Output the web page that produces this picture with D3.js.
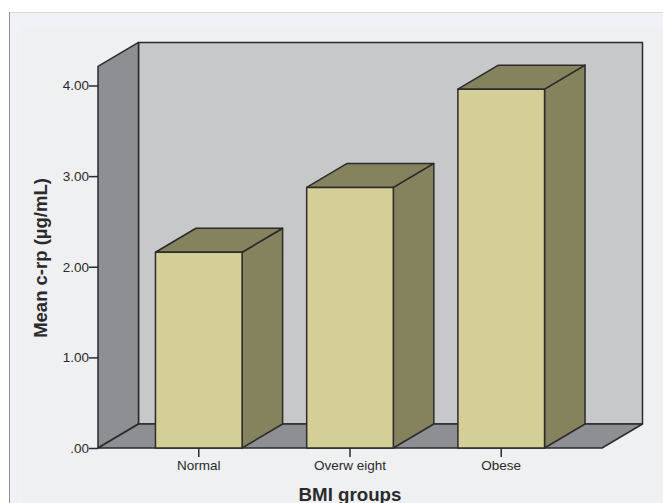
<!DOCTYPE html>
<html>
<head>
<meta charset="utf-8">
<script src="https://cdnjs.cloudflare.com/ajax/libs/d3/7.8.5/d3.min.js"></script>
<style>
  html, body { margin: 0; padding: 0; background: #fff; overflow: hidden; }
  text { font-family: "Liberation Sans", Arial, sans-serif; fill: #2b2a2c; }
</style>
</head>
<body>
<svg id="chart" width="663" height="503"></svg>
<script>
var categories = ['Normal', 'Overw eight', 'Obese'];
var means = [2.16, 2.875, 3.96];
var yTicks = [0, 1, 2, 3, 4];
var yTop = 4.21;

var WIDTH = 663, HEIGHT = 503;
var LINE = '#2b2a2c';
var depthX = 40.5, depthY = -24;

var svg = d3.select('#chart');

// page backing
svg.append('rect').attr('x', 9.5).attr('y', 12.5).attr('width', WIDTH).attr('height', HEIGHT)
  .attr('fill', '#f0f2f7').attr('stroke', '#d9dadc');
svg.append('line').attr('x1', 9.5).attr('x2', 9.5).attr('y1', 12).attr('y2', HEIGHT).attr('stroke', '#8f9092');
svg.append('rect').attr('x', 21).attr('y', 27).attr('width', WIDTH).attr('height', HEIGHT).attr('fill', '#eff0f2');

var x = d3.scaleBand().domain(categories).range([98, 602]).paddingInner(0.427).paddingOuter(0.38);
var y = d3.scaleLinear().domain([0, 4]).range([448, 85.5]);

var x0 = x.range()[0], x1 = x.range()[1];
var path = function(pts) { return d3.line()(pts) + 'Z'; };
var shape = function(pts, fill) {
  svg.append('path').attr('d', path(pts)).attr('fill', fill)
    .attr('stroke', LINE).attr('stroke-width', 1.5).attr('stroke-linejoin', 'round');
};

// back wall, side wall, floor
shape([[x0 + depthX, y(yTop) + depthY], [x1 + depthX, y(yTop) + depthY], [x1 + depthX, y(0) + depthY], [x0 + depthX, y(0) + depthY]], '#c7c8ca');
shape([[x0, y(yTop)], [x0 + depthX, y(yTop) + depthY], [x0 + depthX, y(0) + depthY], [x0, y(0)]], '#8e8f92');
shape([[x0, y(0)], [x0 + depthX, y(0) + depthY], [x1 + depthX, y(0) + depthY], [x1, y(0)]], '#8e8f92');

// bars
categories.forEach(function(cat, i) {
  var left = x(cat), right = left + x.bandwidth(), top = y(means[i]), bottom = y(0);
  shape([[right, top], [right + depthX, top + depthY], [right + depthX, bottom + depthY], [right, bottom]], '#85825e');
  shape([[left, top], [left + depthX, top + depthY], [right + depthX, top + depthY], [right, top]], '#85825e');
  shape([[left, top], [right, top], [right, bottom], [left, bottom]], '#d3cf97');
});

// axes
var yAxis = d3.axisLeft(y).tickValues(yTicks).tickSize(9).tickPadding(0)
  .tickFormat(function(d) { return d === 0 ? '.00' : d3.format('.2f')(d); });
var yG = svg.append('g').attr('transform', 'translate(' + x0 + ',0)').call(yAxis);
yG.select('.domain').remove();
yG.selectAll('line').attr('stroke', LINE).attr('stroke-width', 1.5);
yG.selectAll('text').attr('font-size', 13.5).attr('font-family', '"Liberation Sans", Arial, sans-serif').attr('fill', '#2b2a2c');

var xAxis = d3.axisBottom(x).tickSize(9).tickPadding(3);
var xG = svg.append('g').attr('transform', 'translate(0,' + y(0) + ')').call(xAxis);
xG.select('.domain').remove();
xG.selectAll('line').attr('stroke', LINE).attr('stroke-width', 1.5);
xG.selectAll('text').attr('font-size', 13.5).attr('font-family', '"Liberation Sans", Arial, sans-serif').attr('fill', '#2b2a2c');

// titles
svg.append('text').attr('x', 350).attr('y', 501).attr('text-anchor', 'middle')
  .attr('font-size', 18.7).attr('font-weight', 'bold').text('BMI groups');
svg.append('text').attr('transform', 'translate(47,258) rotate(-90)').attr('text-anchor', 'middle')
  .attr('font-size', 18.5).attr('font-weight', 'bold').text('Mean c-rp (µg/mL)');
</script>
</body>
</html>
